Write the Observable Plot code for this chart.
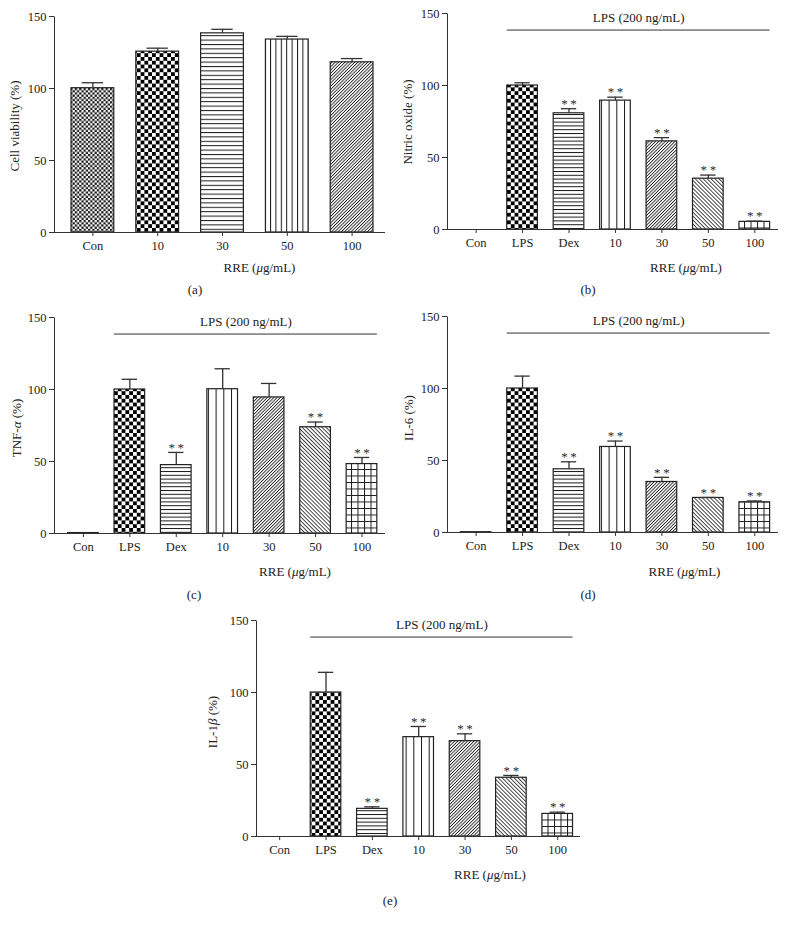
<!DOCTYPE html>
<html><head><meta charset="utf-8">
<script src="https://cdn.jsdelivr.net/npm/d3@7"></script>
<script src="https://cdn.jsdelivr.net/npm/@observablehq/plot@0.6"></script>
<style>
body{margin:0;background:#fff;}
#fig{position:relative;width:786px;height:926px;overflow:hidden;background:#fff;font-family:"Liberation Serif","DejaVu Serif",serif;color:#222;}
#fig svg.panel{position:absolute;}
.lbl{position:absolute;font-size:13px;white-space:nowrap;transform:translate(-50%,-50%);line-height:1;}
.ylbl{position:absolute;font-size:13px;white-space:nowrap;transform:translate(-50%,-50%) rotate(-90deg);line-height:1;}
</style></head><body><div id="fig"></div>
<script>
// ---------- data ----------
const yTicks = [0, 50, 100, 150];
const lpsLineY = 138.5;
const lpsLabel = "LPS (200 ng/mL)";

const catsA = ["Con", "10", "30", "50", "100"];
const viability = [100.2, 125.6, 138.3, 134.0, 118.2];
const viabilityErr = [3.8, 2.4, 2.8, 2.2, 2.6];
const patsA = ["pChkFine", "pChk", "pHA", "pVA", "pDF"];

const catsB = ["Con", "LPS", "Dex", "10", "30", "50", "100"];
const patsB = ["pChkFine", "pChk", "pH", "pV", "pDF", "pDB", "pGrid"];

const nitricOxide = [0, 100, 80.7, 89.5, 61.2, 35.3, 5.3];
const nitricOxideErr = [0, 1.9, 3.2, 2.4, 2.6, 2.5, 0.5];
const sigNO = ["Dex", "10", "30", "50", "100"];

const tnf = [0.3, 100, 47.5, 100.2, 94.5, 73.8, 48.2];
const tnfErr = [0, 7.1, 8.8, 14.2, 9.7, 3.6, 4.6];
const sigTNF = ["Dex", "50", "100"];

const il6 = [0.2, 100, 43.9, 59.4, 35.1, 24.0, 21.0];
const il6Err = [0, 8.6, 5.2, 4.1, 3.2, 0.3, 0.9];
const sigIL6 = ["Dex", "10", "30", "50", "100"];

const il1b = [0, 100, 19.2, 69.0, 66.2, 40.8, 15.7];
const il1bErr = [0, 14.0, 1.4, 7.4, 5.1, 1.6, 1.2];
const sigIL1b = ["Dex", "10", "30", "50", "100"];

// ---------- patterns ----------
const fig = document.getElementById("fig");
const INK = "#1a1a1a";
fig.insertAdjacentHTML("beforeend", `
<svg width="0" height="0" style="position:absolute;left:0;top:0"><defs>
 <pattern id="pChkFine" patternUnits="userSpaceOnUse" width="4.4" height="4.4">
  <rect width="4.4" height="4.4" fill="#fff"/><rect width="2.2" height="2.2" fill="${INK}"/><rect x="2.2" y="2.2" width="2.2" height="2.2" fill="${INK}"/></pattern>
 <pattern id="pChk" patternUnits="userSpaceOnUse" width="7.6" height="7.6">
  <rect width="7.6" height="7.6" fill="#fff"/><rect width="3.8" height="3.8" fill="#000"/><rect x="3.8" y="3.8" width="3.8" height="3.8" fill="#000"/></pattern>
 <pattern id="pHA" patternUnits="userSpaceOnUse" width="10" height="4.4">
  <rect width="10" height="4.4" fill="#fff"/><line x1="0" x2="10" y1="0.5" y2="0.5" stroke="${INK}" stroke-width="1"/></pattern>
 <pattern id="pH" patternUnits="userSpaceOnUse" width="10" height="3.8">
  <rect width="10" height="3.8" fill="#fff"/><line x1="0" x2="10" y1="0.5" y2="0.5" stroke="${INK}" stroke-width="1"/></pattern>
 <pattern id="pVA" patternUnits="userSpaceOnUse" width="5.4" height="10">
  <rect width="5.4" height="10" fill="#fff"/><line x1="0.5" x2="0.5" y1="0" y2="10" stroke="${INK}" stroke-width="1"/></pattern>
 <pattern id="pV" patternUnits="userSpaceOnUse" width="7.7" height="10">
  <rect width="7.7" height="10" fill="#fff"/><line x1="0.5" x2="0.5" y1="0" y2="10" stroke="${INK}" stroke-width="1"/></pattern>
 <pattern id="pDF" patternUnits="userSpaceOnUse" width="2.3" height="10" patternTransform="rotate(45)">
  <rect width="2.3" height="10" fill="#fff"/><line x1="0.4" x2="0.4" y1="0" y2="10" stroke="${INK}" stroke-width="0.9"/></pattern>
 <pattern id="pDB" patternUnits="userSpaceOnUse" width="2.8" height="10" patternTransform="rotate(-45)">
  <rect width="2.8" height="10" fill="#fff"/><line x1="0.4" x2="0.4" y1="0" y2="10" stroke="${INK}" stroke-width="0.9"/></pattern>
 <pattern id="pGrid" patternUnits="userSpaceOnUse" width="6.5" height="6.5">
  <rect width="6.5" height="6.5" fill="#fff"/><path d="M0,0.5H6.5M0.5,0V6.5" stroke="${INK}" stroke-width="1" fill="none"/></pattern>
</defs></svg>`);

// ---------- panel builder ----------
function panel(cfg) {
  const {cats, values, errors, pats, sig, left, top, width, height, mL, mT, mB, mR, xr, lps} = cfg;
  const data = cats.map((c, i) => ({c, v: values[i], e: values[i] + errors[i], p: `url(#${pats[i]})`, s: sig.includes(c)}));
  const step = (xr[1] - xr[0]) / cats.length;
  const bw = step * 0.66;
  const marks = [
    Plot.barY(data.filter(d => d.v > 0), {x: "c", y: "v", fill: "p", stroke: "#222", strokeWidth: 1.2}),
    Plot.ruleX(data.filter(d => d.e > d.v), {x: "c", y1: "v", y2: "e", stroke: "#333", strokeWidth: 1.3}),
    Plot.tickY(data.filter(d => d.e > d.v), {x: "c", y: "e", stroke: "#333", strokeWidth: 1.3, inset: bw / 4}),
    Plot.text(data.filter(d => d.s), {x: "c", y: "e", text: () => "*\u2009*", dy: -5, fontSize: 13, fill: "#2a2a2a"}),
    Plot.ruleY([0], {stroke: "#333", strokeWidth: 1}),
    (index, scales, values, dims) => {
      const l = document.createElementNS("http://www.w3.org/2000/svg", "line");
      const x = dims.marginLeft + 0.5;
      l.setAttribute("x1", x); l.setAttribute("x2", x);
      l.setAttribute("y1", scales.y(0) + 0.5); l.setAttribute("y2", scales.y(150) + 0.5);
      l.setAttribute("stroke", "#333");
      return l;
    },
    Plot.axisY({ticks: yTicks, tickSize: 5, tickPadding: 3, label: null, fontSize: 12.5, stroke: "#333", fill: "#222"}),
    Plot.axisX({tickSize: 4, tickPadding: 5, label: null, fontSize: 12.5, stroke: "#333", fill: "#222"})
  ];
  if (lps) {
    marks.push(Plot.ruleY([lpsLineY], {x1: () => "LPS", x2: () => "100", stroke: "#333", strokeWidth: 1}));
    marks.push(Plot.text([lpsLabel], {x: () => "10", y: () => lpsLineY, dx: step / 2, dy: -12, fontSize: 13, fill: "#222"}));
  }
  const svg = Plot.plot({
    width, height, marginLeft: mL, marginTop: mT, marginBottom: mB, marginRight: mR,
    style: {fontFamily: "Liberation Serif, serif", fontSize: "12.5px", color: "#222", background: "transparent", overflow: "visible"},
    x: {domain: cats, range: xr, paddingInner: 0.34, paddingOuter: 0.17, align: 0.5, round: false, axis: null},
    y: {domain: [0, 150], axis: null},
    color: {type: "identity"},
    marks
  });
  svg.classList.add("panel");
  svg.style.left = left + "px";
  svg.style.top = top + "px";
  fig.appendChild(svg);
}

function label(html, x, y, cls) {
  const d = document.createElement("div");
  d.className = cls;
  d.style.left = x + "px";
  d.style.top = y + "px";
  d.innerHTML = html;
  fig.appendChild(d);
}

panel({cats: catsA, values: viability, errors: viabilityErr, pats: patsA, sig: [],
  left: 0, top: 0, width: 393, height: 300, mL: 54, mT: 16, mB: 68, mR: 8, xr: [60, 384], lps: false});
panel({cats: catsB, values: nitricOxide, errors: nitricOxideErr, pats: patsB, sig: sigNO,
  left: 393, top: 0, width: 393, height: 300, mL: 54, mT: 13, mB: 71, mR: 8, xr: [59.4, 384.5], lps: true});
panel({cats: catsB, values: tnf, errors: tnfErr, pats: patsB, sig: sigTNF,
  left: 0, top: 300, width: 393, height: 310, mL: 54, mT: 17, mB: 77, mR: 8, xr: [59.7, 384.7], lps: true});
panel({cats: catsB, values: il6, errors: il6Err, pats: patsB, sig: sigIL6,
  left: 393, top: 300, width: 393, height: 310, mL: 54, mT: 16, mB: 78, mR: 8, xr: [59.4, 384.5], lps: true});
panel({cats: catsB, values: il1b, errors: il1bErr, pats: patsB, sig: sigIL1b,
  left: 190, top: 605, width: 420, height: 321, mL: 66, mT: 15, mB: 90, mR: 30, xr: [66, 390.4], lps: true});

// axis titles and captions
label("Cell viability (%)", 13.5, 126, "ylbl");
label("Nitric oxide (%)", 406.5, 121.5, "ylbl");
label("TNF-<i>α</i> (%)", 16, 427.5, "ylbl");
label("IL-6 (%)", 408, 418, "ylbl");
label("IL-1<i>β</i> (%)", 212, 722, "ylbl");
const rre = "RRE (<i>μ</i>g/mL)";
label(rre, 259.5, 266.5, "lbl");
label(rre, 686, 266.5, "lbl");
label(rre, 295, 570.5, "lbl");
label(rre, 684.5, 570.5, "lbl");
label(rre, 490, 873.5, "lbl");
label("(a)", 195, 289, "lbl");
label("(b)", 588, 289, "lbl");
label("(c)", 194, 594, "lbl");
label("(d)", 588, 593.5, "lbl");
label("(e)", 390, 900, "lbl");
</script>
</body></html>
